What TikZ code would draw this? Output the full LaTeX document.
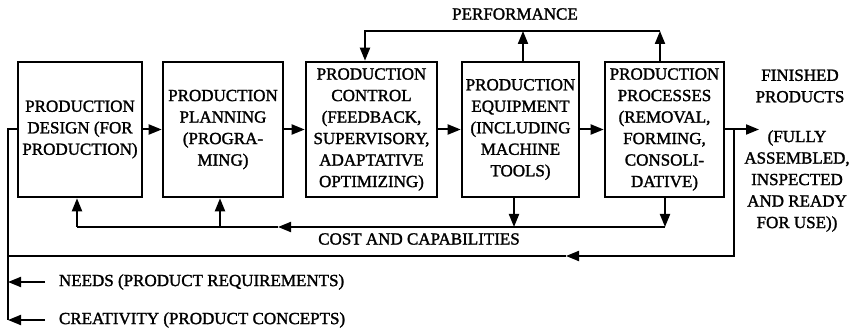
\documentclass[tikz,border=0pt]{standalone}
\usepackage{fontspec}
\setmainfont{Liberation Serif}
\newfontfamily\heavyserif{Liberation Serif}[FakeBold=1.6]
\usetikzlibrary{arrows.meta}
\newcommand\dfont{\heavyserif\fontsize{17}{21.5}\selectfont}
\begin{document}
\begin{tikzpicture}[x=1pt,y=-1pt,line width=2pt,
  box/.style={draw,rectangle,line width=2.6pt,inner sep=0pt,align=center,font=\dfont,minimum height=135pt},
  arr/.style={-{Triangle[length=13pt,width=10pt]}},
  lbl/.style={font=\dfont,inner sep=0pt,align=center}]
\useasboundingbox (0,0) rectangle (856,328);
% boxes
\node[box,minimum width=124pt] (b1) at (80,129.5) {PRODUCTION\\DESIGN (FOR\\PRODUCTION)};
\node[box,minimum width=120pt] (b2) at (223,129.5) {PRODUCTION\\PLANNING\\(PROGRA-\\MING)};
\node[box,minimum width=131pt] (b3) at (371.5,129.5) {PRODUCTION\\CONTROL\\(FEEDBACK,\\SUPERVISORY,\\ADAPTATIVE\\OPTIMIZING)};
\node[box,minimum width=117pt] (b4) at (520.5,129.5) {PRODUCTION\\EQUIPMENT\\(INCLUDING\\MACHINE\\TOOLS)};
\node[box,minimum width=119pt] (b5) at (664.5,129.5) {PRODUCTION\\PROCESSES\\(REMOVAL,\\FORMING,\\CONSOLI-\\DATIVE)};
% labels
\node[lbl] (perf) at (515,14) {PERFORMANCE};
\node[lbl] (cost) at (419,239) {COST AND CAPABILITIES};
\node[lbl,anchor=west] (needs) at (58,282) {NEEDS (PRODUCT REQUIREMENTS)};
\node[lbl,anchor=west] (creat) at (58,320) {CREATIVITY (PRODUCT CONCEPTS)};
\node[lbl] (fin) at (800,86) {FINISHED\\PRODUCTS};
\node[lbl] (fully) at (797,181) {(FULLY\\ASSEMBLED,\\INSPECTED\\AND READY\\FOR USE))};
% coordinates
\coordinate (out) at (759,129.5);
\coordinate (j) at (734,129.5);
\coordinate (jd) at (734,256);
\coordinate (ra) at (566,256);
\coordinate (ll) at (8,256);
\coordinate (lt) at (8,129.5);
\coordinate (lb) at (8,320);
\coordinate (ns) at (45,282);
\coordinate (ne) at (8,282);
\coordinate (cs) at (45,320);
\coordinate (pr) at (660,31);
\coordinate (p4) at (523,31);
\coordinate (pl) at (365,31);
\coordinate (c5) at (665,227);
\coordinate (c4) at (514,227);
\coordinate (ca) at (278,227);
\coordinate (c2) at (220,227);
\coordinate (c1) at (77,227);
% flow arrows
\draw[arr] (b1.east) -- (b2.west);
\draw[arr] (b2.east) -- (b3.west);
\draw[arr] (b3.east) -- (b4.west);
\draw[arr] (b4.east) -- (b5.west);
\draw[arr] (b5.east) -- (out);
% return of finished products
\draw[arr] (j) -- (jd) -- (ra);
\draw (ra) -- (ll);
% left input line
\draw (b1.west) -- (lt) -- (lb);
\draw[arr] (ns) -- (ne);
\draw[arr] (cs) -- (lb);
% performance
\draw[arr] (b4.north -| p4) -- (p4);
\draw[arr] (b5.north -| pr) -- (pr);
\draw[arr] (pr) -- (pl) -- (pl |- b3.north);
% cost and capabilities
\draw[arr] (b4.south -| c4) -- (c4);
\draw[arr] (b5.south -| c5) -- (c5);
\draw[arr] (c5) -- (ca);
\draw (ca) -- (c1);
\draw[arr] (c1) -- (c1 |- b1.south);
\draw[arr] (c2) -- (c2 |- b2.south);
\end{tikzpicture}
\end{document}
